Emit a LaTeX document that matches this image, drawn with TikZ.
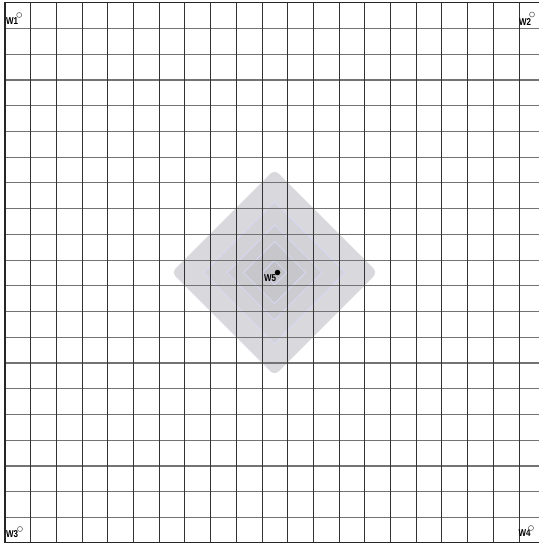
\documentclass[tikz,border=0pt]{standalone}
\usepackage{fontspec}
\setmainfont{Liberation Sans}
\begin{document}
\begin{tikzpicture}[x=1pt,y=-1pt,
  vline/.style={draw=black!80,line width=0.9pt},
  hline/.style={draw=black!55,line width=1.2pt},
  border/.style={draw=black!85,line width=1.6pt},
  lbl/.style={inner sep=0pt,font=\fontsize{10}{10}\selectfont\bfseries},
  station/.style={circle,draw=black!60,fill=white,line width=0.6pt,inner sep=0pt,minimum size=5pt},
  centre/.style={circle,fill=black,inner sep=0pt,minimum size=5.5pt},
  ring/.style={draw=white!85!blue,line width=0.7pt}]
\useasboundingbox (0,0) rectangle (539,545);
\fill[white] (0,0) rectangle (539,545);
% shaded field
\fill[fill={rgb,255:red,217;green,217;blue,221},rounded corners=6pt]
  (274.5,169.5) -- (377.5,272.5) -- (274.5,375.5) -- (171.5,272.5) -- cycle;
\filldraw[ring,fill={rgb,255:red,211;green,211;blue,215}]
  (274.5,202) -- (345,272.5) -- (274.5,343) -- (204,272.5) -- cycle;
\filldraw[ring,fill={rgb,255:red,205;green,205;blue,209}]
  (274.5,225) -- (322,272.5) -- (274.5,320) -- (227,272.5) -- cycle;
\filldraw[ring,fill={rgb,255:red,199;green,199;blue,203}]
  (274.5,241.5) -- (305.5,272.5) -- (274.5,303.5) -- (243.5,272.5) -- cycle;
\filldraw[ring,fill={rgb,255:red,194;green,194;blue,198}]
  (274.5,260.5) -- (286.5,272.5) -- (274.5,284.5) -- (262.5,272.5) -- cycle;
% grid
\foreach \k in {1,...,20}{
  \draw[hline] (5,{2.7+25.74*\k}) -- (539,{2.7+25.74*\k});
}
\foreach \k in {1,...,20}{
  \draw[vline] ({5+25.7*\k},2.7) -- ({5+25.7*\k},542.3);
}
\draw[border] (539,2.7) -- (5,2.7) -- (5,542.3) -- (539,542.3);
% stations
\node[lbl] (w1) at (12,21) {\scalebox{0.8}[1]{W1}};
\node[station] (s1) at (19.2,15) {};
\node[lbl] (w2) at (525,22) {\scalebox{0.8}[1]{W2}};
\node[station] (s2) at (532,14.5) {};
\node[lbl] (w3) at (12,534) {\scalebox{0.8}[1]{W3}};
\node[station] (s3) at (20,529) {};
\node[lbl] (w4) at (524.5,533.5) {\scalebox{0.8}[1]{W4}};
\node[station] (s4) at (531,528) {};
\node[centre] (s5) at (277.5,272.5) {};
\node[lbl] (w5) at (270,278.5) {\scalebox{0.8}[1]{W5}};
\end{tikzpicture}
\end{document}
